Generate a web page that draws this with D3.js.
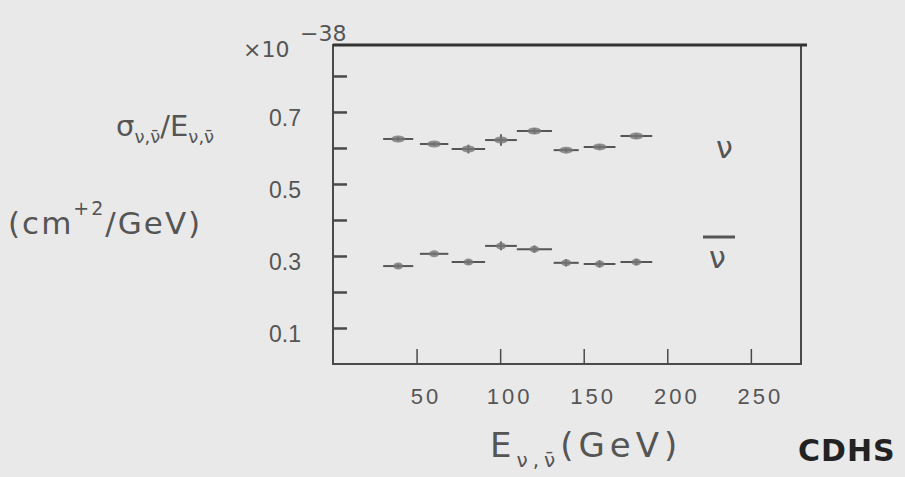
<!DOCTYPE html>
<html>
<head>
<meta charset="utf-8">
<script src="https://cdn.jsdelivr.net/npm/d3@7"></script>
<style>
  body { margin: 0; background: #e9e9e9; }
  svg { display: block; font-family: "DejaVu Sans", sans-serif; }
</style>
</head>
<body>
<div class="canvas"></div>
<script>
// energy bins (GeV) and measured slopes (x10^-38 cm^2/GeV)
const binLo = [30, 52, 71, 91, 110, 132, 150, 172];
const binHi = [48, 69, 91, 110, 131, 147, 169, 191];
const nuValues = [0.625, 0.611, 0.597, 0.622, 0.647, 0.594, 0.603, 0.633];
const nubarValues = [0.272, 0.306, 0.283, 0.328, 0.319, 0.281, 0.278, 0.283];
const nuErr = [0.006, 0.005, 0.012, 0.016, 0.008, 0.006, 0.006, 0.007];
const nubarErr = [0.006, 0.004, 0.006, 0.012, 0.010, 0.010, 0.010, 0.009];
const xTicks = [50, 100, 150, 200, 250];
const yTicks = [0.1, 0.2, 0.3, 0.4, 0.5, 0.6, 0.7, 0.8];
const yLabels = [0.1, 0.3, 0.5, 0.7];

const dims = { width: 905, height: 477 };
const margin = { top: 45, right: 104, bottom: 113, left: 333 };
const w = dims.width - margin.left - margin.right;
const h = dims.height - margin.top - margin.bottom;
const ink = '#4a4a4a';

const svg = d3.select('.canvas')
    .append('svg')
    .attr('width', dims.width)
    .attr('height', dims.height);

const graph = svg.append('g')
    .attr('transform', `translate(${margin.left}, ${margin.top})`);

const x = d3.scaleLinear().domain([0, 280]).range([0, w]);
const y = d3.scaleLinear().domain([0, 0.886]).range([h, 0]);

// frame
graph.append('rect')
    .attr('width', w).attr('height', h)
    .attr('fill', 'none')
    .attr('stroke', ink)
    .attr('stroke-width', 2);
graph.append('line')
    .attr('x1', 0).attr('x2', w + 6).attr('y1', 0).attr('y2', 0)
    .attr('stroke', '#333').attr('stroke-width', 3);

// y axis: inward ticks, labels on alternate ticks
const yAxis = d3.axisLeft(y)
    .tickValues(yTicks)
    .tickSize(-14)
    .tickFormat(d => yLabels.some(v => Math.abs(v - d) < 1e-6) ? d.toFixed(1) : '');
const yg = graph.append('g').call(yAxis);
yg.select('.domain').remove();
yg.selectAll('line').attr('stroke', ink).attr('stroke-width', 2.5);
yg.selectAll('text')
    .attr('fill', '#555')
    .attr('font-size', 23)
    .attr('text-anchor', 'start')
    .attr('x', -64)
    .attr('dy', '0.6em');

// x axis: inward ticks
const xAxis = d3.axisBottom(x)
    .tickValues(xTicks)
    .tickSize(-15)
    .tickPadding(24);
const xg = graph.append('g')
    .attr('transform', `translate(0, ${h})`)
    .call(xAxis);
xg.select('.domain').remove();
xg.selectAll('line').attr('stroke', ink).attr('stroke-width', 1.5);
xg.selectAll('text')
    .attr('fill', '#555')
    .attr('font-size', 22)
    .attr('letter-spacing', 3)
    .attr('dx', 9);

// data points with bin-width bars and error bars
const drawSeries = (vals, errs, cls, rx) => {
    const data = vals.map((v, i) => ({ lo: binLo[i], hi: binHi[i], v, e: errs[i] }));
    const g = graph.append('g').attr('class', cls);
    const pts = g.selectAll('g').data(data).enter().append('g');
    pts.append('line')
        .attr('x1', d => x(d.lo)).attr('x2', d => x(d.hi))
        .attr('y1', d => y(d.v)).attr('y2', d => y(d.v))
        .attr('stroke', '#555').attr('stroke-width', 2);
    pts.append('line')
        .attr('x1', d => x((d.lo + d.hi) / 2)).attr('x2', d => x((d.lo + d.hi) / 2))
        .attr('y1', d => y(d.v + d.e)).attr('y2', d => y(d.v - d.e))
        .attr('stroke', '#555').attr('stroke-width', 1.8);
    pts.append('ellipse')
        .attr('cx', d => x((d.lo + d.hi) / 2)).attr('cy', d => y(d.v))
        .attr('rx', rx).attr('ry', 3.5)
        .attr('fill', '#777').attr('opacity', 0.8);
};
drawSeries(nuValues, nuErr, 'nu', 7);
drawSeries(nubarValues, nubarErr, 'nubar', 5);

// series labels
svg.append('text')
    .attr('x', 716).attr('y', 158)
    .attr('font-size', 30).attr('fill', '#555')
    .text('ν');
svg.append('text')
    .attr('x', 709).attr('y', 268)
    .attr('font-size', 30).attr('fill', '#555')
    .text('ν');
svg.append('line')
    .attr('x1', 703).attr('x2', 735).attr('y1', 237).attr('y2', 237)
    .attr('stroke', '#555').attr('stroke-width', 3);

// scale factor
svg.append('text')
    .attr('x', 243).attr('y', 57)
    .attr('font-size', 22).attr('fill', '#555')
    .text('×10');
svg.append('text')
    .attr('x', 300).attr('y', 41)
    .attr('font-size', 22).attr('fill', '#555')
    .text('−38');

// y title
const yt = svg.append('text')
    .attr('x', 116).attr('y', 136)
    .attr('font-size', 29).attr('fill', '#555');
yt.append('tspan').text('σ');
yt.append('tspan').attr('font-size', 18).attr('dy', 7).text('ν,ν̄');
yt.append('tspan').attr('dy', -7).text('/E');
yt.append('tspan').attr('font-size', 18).attr('dy', 7).text('ν,ν̄');

const yu = svg.append('text')
    .attr('x', 8).attr('y', 234)
    .attr('font-size', 31).attr('fill', '#555')
    .attr('letter-spacing', 2);
yu.append('tspan').text('(cm');
yu.append('tspan').attr('font-size', 19).attr('dy', -19).text('+2');
yu.append('tspan').attr('dy', 19).text('/GeV)');

// x title
const xt = svg.append('text')
    .attr('x', 490).attr('y', 457)
    .attr('font-size', 34).attr('fill', '#555')
    .attr('letter-spacing', 5);
xt.append('tspan').text('E');
xt.append('tspan').attr('font-size', 20).attr('dy', 10).text('ν,ν̄');
xt.append('tspan').attr('dy', -10).text('(GeV)');

svg.append('text')
    .attr('x', 798).attr('y', 461)
    .attr('font-size', 30).attr('font-weight', 'bold').attr('fill', '#222')
    .attr('letter-spacing', 1)
    .text('CDHS');
</script>
</body>
</html>
